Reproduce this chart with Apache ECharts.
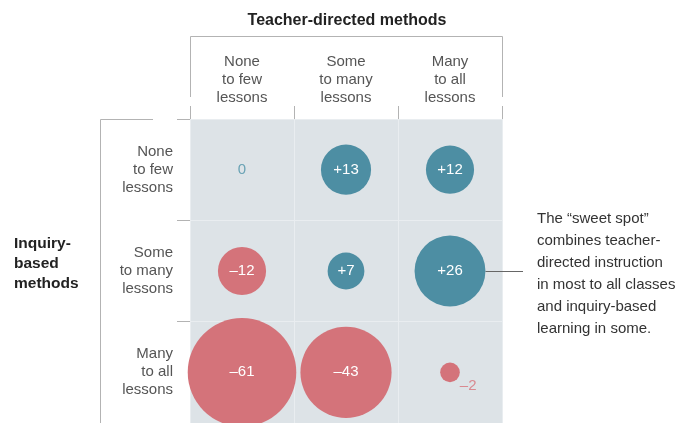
<!DOCTYPE html>
<html>
<head>
<meta charset="utf-8">
<script src="https://cdn.jsdelivr.net/npm/echarts@6/dist/echarts.min.js"></script>
<style>
  html, body { margin: 0; padding: 0; background: #fff; }
  #chart { width: 678px; height: 423px; }
</style>
</head>
<body>
<div id="chart"></div>
<script>
// Column categories (teacher-directed methods)
const teacherCats = ['None\nto few\nlessons', 'Some\nto many\nlessons', 'Many\nto all\nlessons'];
// Row categories (inquiry-based methods)
const inquiryCats = ['None\nto few\nlessons', 'Some\nto many\nlessons', 'Many\nto all\nlessons'];
// Score differences per row (inquiry level), across teacher-directed columns
const rowNoneToFew = [0, 13, 12];
const rowSomeToMany = [-12, 7, 26];
const rowManyToAll = [-61, -43, -2];
const rows = [rowNoneToFew, rowSomeToMany, rowManyToAll];

const TEAL = '#4d8ea3';
const RED = '#d4737a';
const FONT = '"Liberation Sans", Arial, Helvetica, sans-serif';
const sizeOf = v => 13.9 * Math.sqrt(Math.abs(v));

const fmt = v => v > 0 ? '+' + v : (v < 0 ? '\u2013' + Math.abs(v) : '0');

const data = [];
rows.forEach((r, ri) => {
  r.forEach((v, ci) => {
    const item = {
      value: [ci, ri, v],
      itemStyle: { color: v >= 0 ? TEAL : RED, opacity: 1 }
    };
    if (v === 0) {
      item.label = { color: '#6aa3b5' };
    } else if (Math.abs(v) < 5) {
      item.label = { position: 'right', distance: 0, offset: [0, 14], color: '#d98a91' };
    }
    data.push(item);
  });
});

const chart = echarts.init(document.getElementById('chart'), null, { renderer: 'canvas' });

const option = {
  animation: false,
  backgroundColor: '#ffffff',
  textStyle: { fontFamily: FONT },
  title: [
    {
      text: 'Teacher-directed methods',
      left: 347, top: 13, textAlign: 'center', padding: 0,
      textStyle: { fontFamily: FONT, fontSize: 16, fontWeight: 'bold', color: '#222' }
    },
    {
      text: 'Inquiry-\nbased\nmethods',
      left: 14, top: 234, padding: 0,
      textStyle: { fontFamily: FONT, fontSize: 15.5, fontWeight: 'bold', color: '#222', lineHeight: 20 }
    }
  ],
  grid: {
    left: 190, top: 119, width: 312, height: 305,
    show: true, backgroundColor: '#dde3e7', borderWidth: 0
  },
  xAxis: {
    type: 'category',
    position: 'top',
    data: teacherCats,
    axisLine: { show: false },
    axisTick: { show: true, length: 13, lineStyle: { color: '#b3b3b3', width: 1 } },
    axisLabel: { margin: 12, fontSize: 15, lineHeight: 18, color: '#555', fontFamily: FONT },
    splitLine: { show: true, lineStyle: { color: '#e9edf0', width: 1 } }
  },
  yAxis: {
    type: 'category',
    inverse: true,
    data: inquiryCats,
    axisLine: { show: false },
    axisTick: { show: true, length: 13, lineStyle: { color: '#b3b3b3', width: 1 } },
    axisLabel: { margin: 17, fontSize: 15, lineHeight: 18, color: '#555', fontFamily: FONT },
    splitLine: { show: true, lineStyle: { color: '#e9edf0', width: 1 } }
  },
  series: [{
    type: 'scatter',
    data: data,
    symbolSize: d => sizeOf(d[2]),
    itemStyle: { opacity: 1 },
    label: {
      show: true,
      position: 'inside',
      formatter: p => fmt(p.value[2]),
      color: '#ffffff',
      fontSize: 15,
      fontFamily: FONT
    },
    emphasis: { disabled: true }
  }]
};

chart.setOption(option);

// decorative brackets and annotation
const sweet = chart.convertToPixel({ gridIndex: 0 }, [2, 1]);
const sweetR = sizeOf(rowSomeToMany[2]) / 2;
chart.setOption({
  graphic: [
    {
      type: 'polyline', silent: true,
      shape: { points: [[190.5, 97], [190.5, 36.5], [502.5, 36.5], [502.5, 97]] },
      style: { stroke: '#b3b3b3', lineWidth: 1, fill: null }
    },
    {
      type: 'polyline', silent: true,
      shape: { points: [[153, 119.5], [100.5, 119.5], [100.5, 423]] },
      style: { stroke: '#b3b3b3', lineWidth: 1, fill: null }
    },
    {
      type: 'line', silent: true,
      shape: { x1: sweet[0] + sweetR, y1: Math.round(sweet[1]) + 0.5, x2: 523, y2: Math.round(sweet[1]) + 0.5 },
      style: { stroke: '#666', lineWidth: 1 }
    },
    {
      type: 'text', silent: true,
      left: 537, top: sweet[1] - 63,
      style: {
        text: 'The \u201csweet spot\u201d\ncombines teacher-\ndirected instruction\nin most to all classes\nand inquiry-based\nlearning in some.',
        font: '15px ' + FONT,
        fill: '#333',
        lineHeight: 22
      }
    }
  ]
});
</script>
</body>
</html>
